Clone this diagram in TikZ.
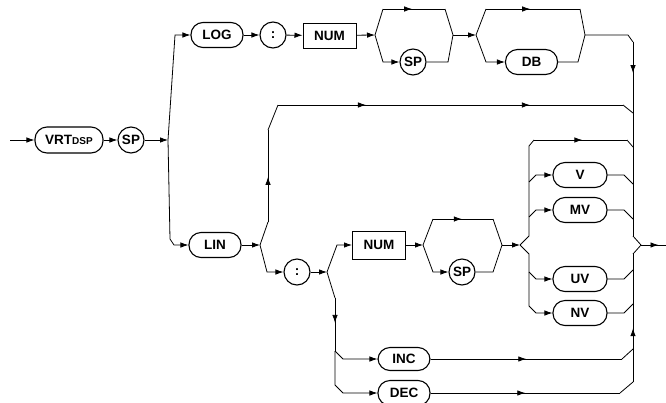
\documentclass[tikz,border=0pt]{standalone}
\usepackage{fontspec}
\setmainfont{Liberation Sans}
\usetikzlibrary{arrows.meta, decorations.markings}

\begin{document}
\begin{tikzpicture}[
    x=1pt, y=-1pt,
    line width=0.8pt,
    kw/.style={draw, line width=1.1pt, rounded corners=12pt, minimum width=52pt, minimum height=25pt, inner sep=0, font=\bfseries\fontsize{13.5}{13.5}\selectfont},
    rnd/.style={draw, circle, line width=1.1pt, minimum size=26pt, inner sep=0, font=\bfseries\fontsize{13.5}{13.5}\selectfont},
    num/.style={draw, rectangle, line width=1pt, minimum width=53pt, minimum height=25pt, inner sep=0, font=\bfseries\fontsize{13.5}{13.5}\selectfont},
    midarr/.style={postaction={decorate, decoration={markings, mark=at position #1 with {\arrow{Latex[length=8pt,width=5.5pt]}}}}},
    midarr/.default=0.5,
    >={Latex[length=8pt,width=5.5pt]}
]
\useasboundingbox (0,0) rectangle (666,402);
% main line
\coordinate (start) at (10,140);
\node[kw, minimum width=68pt, minimum height=26pt] (vrt) at (69,140) {VRT{\fontsize{10}{10}\selectfont DSP}};
\node[rnd] (sp) at (131,140) {SP};
\coordinate (br1) at (168,140);
\draw[->] (start) -- (vrt);
\draw[->] (vrt) -- (sp);
\draw[->] (sp) -- (br1);
% LOG branch
\node[kw] (log) at (217,35) {LOG};
\node[rnd] (col1) at (273,35) {:};
\node[num] (num1) at (329.5,35.5) {NUM};
\draw[->] (br1) -- (175,35) -- (log);
\draw[->] (log) -- (col1);
\draw[->] (col1) -- (num1);
\coordinate (br2) at (375,35);
\coordinate (jn2) at (453,35);
\node[rnd] (sp2) at (413,62) {SP};
\draw[->] (num1) -- (br2);
\draw (br2) -- (383,9);
\draw[midarr=0.47] (383,9) -- (445,9);
\draw (445,9) -- (jn2);
\draw[->] (br2) -- (383,62) -- (sp2);
\draw (sp2) -- (448,62) -- (jn2);
\coordinate (br3) at (476,35);
\coordinate (jn3) at (585,35);
\node[kw] (db) at (531.5,62) {DB};
\draw[->] (jn2) -- (br3);
\draw (br3) -- (486,9);
\draw[midarr=0.47] (486,9) -- (580,9);
\draw (580,9) -- (jn3);
\draw[->] (br3) -- (486,62) -- (db);
\draw (db) -- (578,62) -- (jn3);
% right rail
\coordinate (out) at (641,245);
\coordinate (exit) at (666,245);
\draw (jn3) -- (628,35) -- (633,42);
\draw[midarr=0.16] (633,42) -- (633,236);
\draw (633,236) -- (out);
\draw[midarr=0.42] (633,382) -- (633,254);
\draw (633,254) -- (out);
\draw[midarr=0.7] (out) -- (exit);
% LIN branch
\node[kw] (lin) at (215,245) {LIN};
\draw[->] (br1) -- (170,239) -- (174,245) -- (lin);
\coordinate (br4) at (260,245);
\draw[->] (lin) -- (br4);
\draw (br4) -- (268,222);
\draw[midarr=0.49] (268,222) -- (268,130);
\draw (268,130) -- (278,105);
\draw[midarr=0.255, midarr=0.73] (278,105) -- (623,105);
\draw (623,105) -- (633,113);
\node[rnd] (col2) at (297,272) {:};
\draw[->] (br4) -- (267,272) -- (col2);
\coordinate (br5) at (327,272);
\draw[->] (col2) -- (br5);
\node[num, minimum height=28pt] (num2) at (379,245) {NUM};
\draw[->] (br5) -- (337,245) -- (num2);
% INC / DEC
\node[kw, minimum height=23pt] (inc) at (404,359) {INC};
\node[kw] (dec) at (404,393) {DEC};
\draw (br5) -- (335,298);
\draw[midarr=0.47] (335,298) -- (335,351);
\draw[->] (335,351) -- (343,359) -- (inc);
\draw[->] (335,351) -- (335,385) -- (343,393) -- (dec);
\draw[midarr=0.5] (inc) -- (622,359);
\draw (622,359) -- (633,349);
\draw[midarr=0.5] (dec) -- (620,393);
\draw (620,393) -- (633,382);
% SP after NUM
\coordinate (br6) at (423,245);
\coordinate (jn6) at (502,245);
\node[rnd] (sp3) at (462,272) {SP};
\draw[->] (num2) -- (br6);
\draw (br6) -- (433,219);
\draw[midarr=0.48] (433,219) -- (493,219);
\draw (493,219) -- (jn6);
\draw[->] (br6) -- (433,272) -- (sp3);
\draw (sp3) -- (493,272) -- (jn6);
% units
\coordinate (br7) at (520,245);
\draw[->] (jn6) -- (br7);
\draw (br7) -- (529,236) -- (529,146) -- (534,140);
\draw[midarr=0.52] (534,140) -- (627,140);
\draw (627,140) -- (633,147);
\draw (br7) -- (529,254) -- (529,306);
\foreach \u/\y/\s in {V/175/1, MV/210/1, UV/279/-1, NV/313/-1} {
  \node[kw, minimum width=54pt] (\u) at (580,\y) {\u};
  \draw[->] (529,{\y+7*\s}) -- (536,\y) -- (\u);
  \draw (\u) -- (624,\y) -- (633,{\y+9*\s});
}
\end{tikzpicture}
\end{document}
